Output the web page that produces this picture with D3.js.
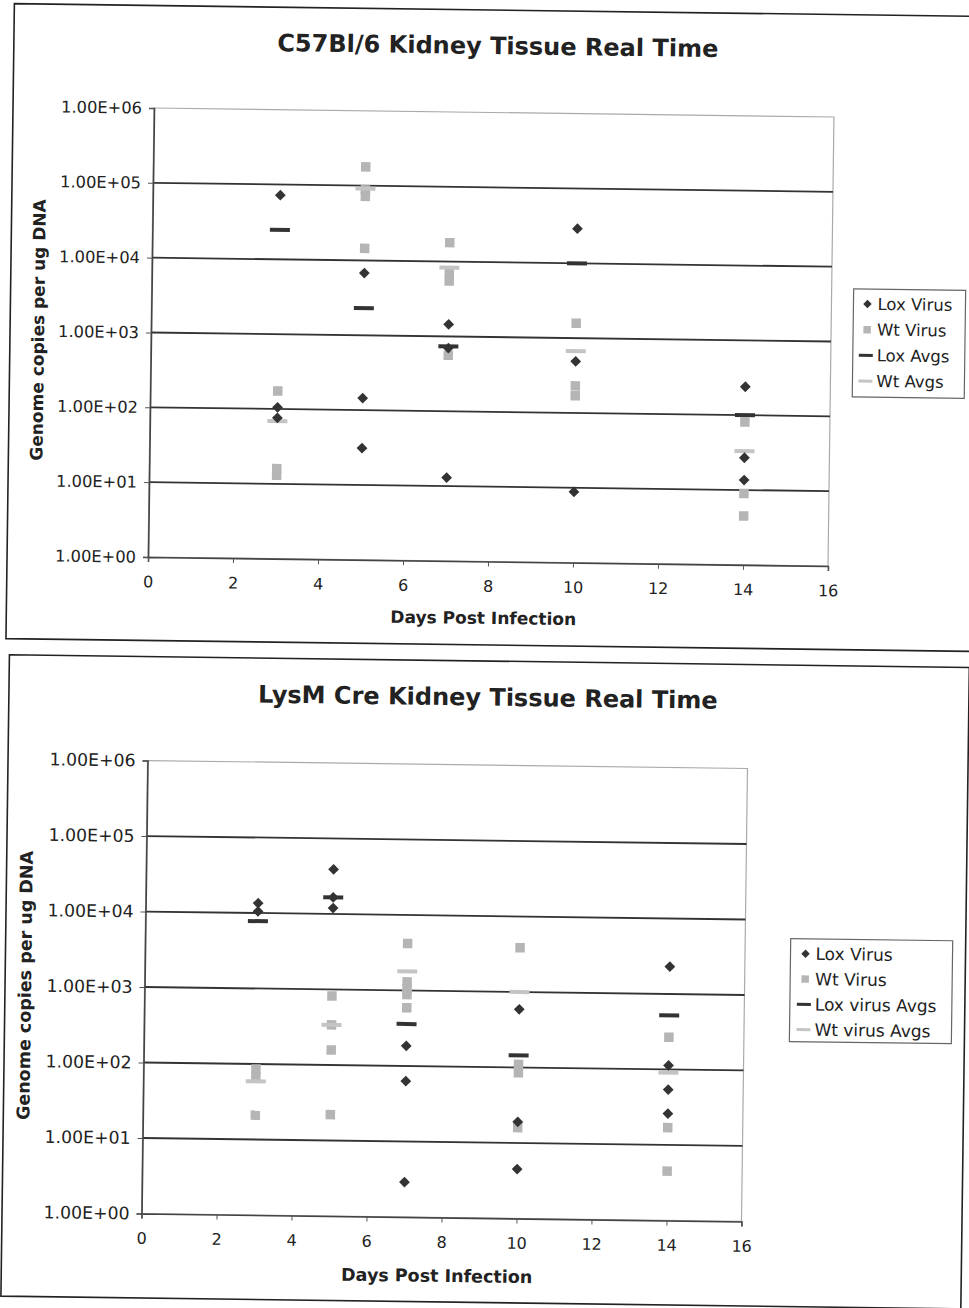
<!DOCTYPE html>
<html>
<head>
<meta charset="utf-8">
<script src="https://cdn.jsdelivr.net/npm/d3@7"></script>
<style>
  body { margin: 0; background: #fff; }
  text { font-family: "DejaVu Sans", Verdana, sans-serif; fill: #222; }
</style>
</head>
<body>
<svg id="page" width="969" height="1308"></svg>
<script>
// sampling days and axis ticks
const days = [3, 5, 7, 10, 14];
const xTicks = [0, 2, 4, 6, 8, 10, 12, 14, 16];
const yTicks = [1, 10, 100, 1e3, 1e4, 1e5, 1e6];

// C57Bl/6 kidney, one inner list per day
const c57Lox = [[72000, 105, 76], [6800, 145, 31], [1450, 700, 13], [29000, 490, 8.8], [240, 27, 13.6]];
const c57Wt = [[174, 16, 13], [178000, 88000, 72000, 14500], [17900, 7000, 5500, 560], [1580, 230, 170], [81, 9, 4.5]];
const c57LoxAvg = [24800, 2300, 735, 10000, 100];
const c57WtAvg = [69, 91000, 8300, 670, 33];

// LysM Cre kidney
const lysLox = [[13500, 10500], [39000, 16600, 12000], [185, 63, 2.9], [590, 19, 4.5], [2300, 113, 54, 26]];
const lysWt = [[86, 67, 21], [820, 340, 158, 22], [4200, 1300, 1050, 880, 590], [3860, 110, 85, 16], [267, 17, 4.5]];
const lysLoxAvg = [7800, 16600, 360, 145, 520];
const lysWtAvg = [59, 340, 1790, 1000, 91];

const LOX = "#333";
const WT = "#b5b5b5";
const WT_AVG = "#c4c4c4";

const svg = d3.select("#page");

function fmtE(v) {
  const e = Math.round(Math.log10(v));
  return "1.00E+" + String(e).padStart(2, "0");
}

function flat(vals) {
  return days.flatMap((d, i) => vals[i].map((v) => ({ day: d, v })));
}

function drawChart(c) {
  const g = svg.append("g")
    .attr("transform", `rotate(${c.angle},${c.cx},${c.cy})`);

  // frame around the chart
  g.append("path")
    .attr("d", c.frame)
    .attr("fill", "none")
    .attr("stroke", "#222")
    .attr("stroke-width", 1.6);

  const x = d3.scaleLinear().domain([0, 16]).range([c.left, c.right]);
  const y = d3.scaleLog().domain([1, 1e6]).range([c.bottom, c.top]);

  g.append("text")
    .attr("x", c.titleX)
    .attr("y", c.titleY)
    .attr("text-anchor", "middle")
    .attr("font-weight", "bold")
    .attr("font-size", 24)
    .text(c.title);

  // plot border
  g.append("rect")
    .attr("x", c.left)
    .attr("y", c.top)
    .attr("width", c.right - c.left)
    .attr("height", c.bottom - c.top)
    .attr("fill", "none")
    .attr("stroke", "#aaa")
    .attr("stroke-width", 1.2);

  g.append("g")
    .selectAll("line")
    .data(yTicks.slice(1, -1))
    .join("line")
    .attr("x1", c.left)
    .attr("x2", c.right)
    .attr("y1", (d) => y(d))
    .attr("y2", (d) => y(d))
    .attr("stroke", "#333")
    .attr("stroke-width", 1.8);

  const yAxis = g.append("g")
    .attr("transform", `translate(${c.left},0)`)
    .call(d3.axisLeft(y).tickValues(yTicks).tickFormat(fmtE).tickSize(5).tickPadding(7));
  yAxis.selectAll("text").attr("font-size", c.tickSize).attr("font-family", "DejaVu Sans").attr("fill", "#222");

  const xAxis = g.append("g")
    .attr("transform", `translate(0,${c.bottom})`)
    .call(d3.axisBottom(x).tickValues(xTicks).tickSize(5).tickPadding(14));
  xAxis.selectAll("text").attr("font-size", 16).attr("font-family", "DejaVu Sans").attr("fill", "#222");
  g.selectAll(".domain").attr("stroke", "#444").attr("stroke-width", 1.6);
  g.selectAll(".tick line").attr("stroke", "#555");

  g.append("text")
    .attr("x", (c.left + c.right) / 2 - 4)
    .attr("y", c.xTitleY)
    .attr("text-anchor", "middle")
    .attr("font-weight", "bold")
    .attr("font-size", c.labelSize)
    .text("Days Post Infection");

  g.append("text")
    .attr("transform", `translate(${c.yTitleX},${c.yTitleY}) rotate(-90)`)
    .attr("text-anchor", "middle")
    .attr("font-weight", "bold")
    .attr("font-size", c.labelSize)
    .text("Genome copies per ug DNA");

  const sq = d3.symbol(d3.symbolSquare, 90);
  const dia = d3.symbol(d3.symbolSquare, 58);

  // Wt points first, Lox over them
  g.append("g")
    .selectAll("path")
    .data(flat(c.wt))
    .join("path")
    .attr("d", sq)
    .attr("transform", (d) => `translate(${x(d.day)},${y(d.v)})`)
    .attr("fill", WT);

  g.append("g")
    .selectAll("rect")
    .data(days)
    .join("rect")
    .attr("x", (d) => x(d) - 10)
    .attr("y", (d, i) => y(c.wtAvg[i]) - 2)
    .attr("width", 20)
    .attr("height", 4)
    .attr("fill", WT_AVG);

  g.append("g")
    .selectAll("path")
    .data(flat(c.lox))
    .join("path")
    .attr("d", dia)
    .attr("transform", (d) => `translate(${x(d.day)},${y(d.v)}) rotate(45)`)
    .attr("fill", LOX);

  g.append("g")
    .selectAll("rect")
    .data(days)
    .join("rect")
    .attr("x", (d) => x(d) - 10)
    .attr("y", (d, i) => y(c.loxAvg[i]) - 2)
    .attr("width", 20)
    .attr("height", 4)
    .attr("fill", LOX);

  // legend
  const L = c.legend;
  g.append("rect")
    .attr("x", L.x)
    .attr("y", L.y)
    .attr("width", L.w)
    .attr("height", L.h)
    .attr("fill", "#fff")
    .attr("stroke", "#666")
    .attr("stroke-width", 1.2);

  const rows = g.append("g")
    .selectAll("g")
    .data(c.legendLabels)
    .join("g")
    .attr("transform", (d, i) => `translate(${L.x},${L.y + L.first + i * L.step})`);

  rows.append("text")
    .attr("x", L.textX)
    .attr("y", 0)
    .attr("dy", "0.35em")
    .attr("font-size", L.size)
    .text((d) => d);

  rows.filter((d, i) => i === 0).append("path")
    .attr("d", d3.symbol(d3.symbolSquare, 36))
    .attr("transform", `translate(${L.textX - 10},0) rotate(45)`)
    .attr("fill", LOX);
  rows.filter((d, i) => i === 1).append("path")
    .attr("d", d3.symbol(d3.symbolSquare, 56))
    .attr("transform", `translate(${L.textX - 10},0)`)
    .attr("fill", WT);
  rows.filter((d, i) => i >= 2).append("rect")
    .attr("x", L.textX - 18)
    .attr("y", -1.5)
    .attr("width", 14)
    .attr("height", 3)
    .attr("fill", (d, i) => (d.startsWith("Lox") ? LOX : WT_AVG));
}

drawChart({
  title: "C57Bl/6 Kidney Tissue Real Time",
  angle: 0.76, cx: 491, cy: 337,
  frame: "M1000,10 L10,10 L10,645 L1000,645",
  left: 151, right: 831, top: 112.5, bottom: 561.5,
  titleX: 494, titleY: 54,
  xTitleY: 624, yTitleX: 44, yTitleY: 336,
  tickSize: 16.3, labelSize: 17,
  lox: c57Lox, wt: c57Wt, loxAvg: c57LoxAvg, wtAvg: c57WtAvg,
  legendLabels: ["Lox Virus", "Wt Virus", "Lox Avgs", "Wt Avgs"],
  legend: { x: 853, y: 284, w: 112, h: 108, first: 15, step: 25.7, textX: 24, size: 16.5 }
});

drawChart({
  title: "LysM Cre Kidney Tissue Real Time",
  angle: 0.76, cx: 444.5, cy: 991,
  frame: "M1000,660.5 L5,660.5 L5,1302 L965,1302 L965,660.5",
  left: 144.5, right: 744.5, top: 764.5, bottom: 1217.5,
  titleX: 484, titleY: 705,
  xTitleY: 1282, yTitleX: 31, yTitleY: 991,
  tickSize: 17.3, labelSize: 17.5,
  lox: lysLox, wt: lysWt, loxAvg: lysLoxAvg, wtAvg: lysWtAvg,
  legendLabels: ["Lox Virus", "Wt Virus", "Lox virus Avgs", "Wt virus Avgs"],
  legend: { x: 790, y: 934, w: 162, h: 103, first: 15, step: 25.3, textX: 25, size: 17 }
});
</script>
</body>
</html>
